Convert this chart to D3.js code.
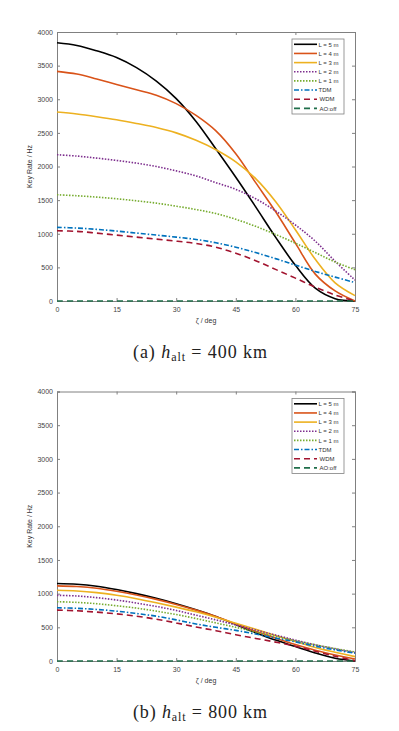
<!DOCTYPE html>
<html>
<head>
<meta charset="utf-8">
<script src="https://cdn.jsdelivr.net/npm/d3@7"></script>
<style>
  body { margin: 0; background: #fff; }
  svg { display: block; }
  .tick text { font-family: "Liberation Sans", Arial, sans-serif; }
</style>
</head>
<body>
<svg width="399" height="731"></svg>
<script>
// zenith angle samples (deg)
const zeta = [0, 5, 10, 15, 20, 25, 30, 35, 40, 45, 50, 55, 60, 65, 70, 75];
const xTicks = [0, 15, 30, 45, 60, 75];
const yTicks = [0, 500, 1000, 1500, 2000, 2500, 3000, 3500, 4000];
const seriesNames = ["L = 5 m", "L = 4 m", "L = 3 m", "L = 2 m", "L = 1 m", "TDM", "WDM", "AO:off"];

// (a) h_alt = 400 km
const a_L5  = [3840, 3800, 3720, 3620, 3470, 3270, 3010, 2670, 2260, 1840, 1400, 950, 530, 190, 35, 0];
const a_L4  = [3415, 3375, 3300, 3220, 3140, 3060, 2935, 2760, 2530, 2190, 1760, 1330, 860, 400, 150, 0];
const a_L3  = [2810, 2780, 2740, 2695, 2640, 2580, 2500, 2390, 2250, 2070, 1820, 1480, 1060, 620, 270, 80];
const a_L2  = [2175, 2155, 2125, 2090, 2050, 2000, 1935, 1860, 1760, 1660, 1520, 1340, 1130, 890, 590, 310];
const a_L1  = [1580, 1565, 1545, 1520, 1490, 1455, 1410, 1360, 1300, 1215, 1110, 990, 860, 720, 580, 465];
const a_TDM = [1095, 1085, 1065, 1040, 1010, 980, 950, 915, 865, 800, 720, 630, 535, 440, 355, 275];
const a_WDM = [1045, 1035, 1010, 980, 950, 920, 890, 855, 800, 710, 600, 470, 340, 205, 90, 0];
const a_AO  = [0, 0, 0, 0, 0, 0, 0, 0, 0, 0, 0, 0, 0, 0, 0, 0];

// (b) h_alt = 800 km
const b_L5  = [1150, 1140, 1110, 1060, 1000, 930, 850, 760, 660, 540, 420, 310, 215, 120, 40, 0];
const b_L4  = [1115, 1105, 1080, 1035, 980, 915, 840, 755, 660, 550, 440, 340, 245, 160, 90, 30];
const b_L3  = [1050, 1040, 1015, 975, 925, 865, 800, 730, 650, 560, 470, 380, 290, 200, 130, 65];
const b_L2  = [975, 965, 940, 905, 860, 810, 750, 680, 610, 535, 460, 385, 310, 240, 180, 125];
const b_L1  = [880, 870, 850, 820, 785, 740, 690, 630, 565, 500, 430, 365, 300, 240, 185, 135];
const b_TDM = [790, 782, 765, 740, 705, 665, 610, 550, 500, 455, 400, 340, 285, 220, 165, 115];
const b_WDM = [755, 745, 725, 700, 665, 620, 565, 505, 450, 390, 335, 280, 220, 145, 70, 5];
const b_AO  = [0, 0, 0, 0, 0, 0, 0, 0, 0, 0, 0, 0, 0, 0, 0, 0];

const styles = [
  { color: "#000000", dash: null },
  { color: "#D95319", dash: null },
  { color: "#EDB120", dash: null },
  { color: "#7E2F8E", dash: "1.5,1.5" },
  { color: "#77AC30", dash: "1.5,1.5" },
  { color: "#0072BD", dash: "5,2,1.5,2" },
  { color: "#A2142F", dash: "6,4" },
  { color: "#1F6E4A", dash: "6,4" }
];

const svg = d3.select("svg");
const left = 57, right = 355;

const x = d3.scaleLinear().domain([0, 75]).range([left, right]);

function panel(series, top, bottom, caption, letter) {
  const y = d3.scaleLinear().domain([0, 4000]).range([bottom, top]);
  const g = svg.append("g");

  // axes box
  const axisColor = "#808080";
  g.append("g").attr("transform", `translate(0,${bottom})`)
    .call(d3.axisBottom(x).tickValues(xTicks).tickSize(-3).tickPadding(6).tickFormat(d3.format("d")));
  g.append("g").attr("transform", `translate(0,${top})`)
    .call(d3.axisTop(x).tickValues(xTicks).tickSize(-3).tickFormat(""));
  g.append("g").attr("transform", `translate(${left},0)`)
    .call(d3.axisLeft(y).tickValues(yTicks).tickSize(-3).tickPadding(4).tickFormat(d3.format("d")));
  g.append("g").attr("transform", `translate(${right},0)`)
    .call(d3.axisRight(y).tickValues(yTicks).tickSize(-3).tickFormat(""));
  g.selectAll(".domain").attr("stroke", axisColor).attr("stroke-width", 1);
  g.selectAll(".tick line").attr("stroke", axisColor);
  g.selectAll(".tick text").attr("fill", "#444").style("font-size", "7px");

  // curves
  const line = d3.line()
    .x((d, i) => x(zeta[i]))
    .y(d => y(d))
    .curve(d3.curveCatmullRom.alpha(0.5));
  series.forEach((s, i) => {
    g.append("path")
      .attr("d", line(s))
      .attr("fill", "none")
      .attr("stroke", styles[i].color)
      .attr("stroke-width", 1.6)
      .attr("stroke-dasharray", styles[i].dash);
  });

  // legend
  const lg = g.append("g").attr("transform", `translate(292,${top + 7})`);
  lg.append("rect").attr("width", 52).attr("height", 75)
    .attr("fill", "#fff").attr("stroke", "#808080").attr("stroke-width", 0.8);
  seriesNames.forEach((name, i) => {
    const ry = 5.3 + i * 9.15;
    lg.append("line").attr("x1", 2).attr("x2", 25).attr("y1", ry).attr("y2", ry)
      .attr("stroke", styles[i].color).attr("stroke-width", 1.6)
      .attr("stroke-dasharray", styles[i].dash);
    lg.append("text").attr("x", i >= 6 ? 27.5 : 26.5).attr("y", ry + 2.2)
      .attr("font-family", "Liberation Sans, Arial, sans-serif")
      .attr("font-size", 6).attr("fill", "#333").text(name);
  });

  // axis labels
  g.append("text").attr("x", 206).attr("y", bottom + 22)
    .attr("text-anchor", "middle").attr("font-family", "Liberation Sans, Arial, sans-serif")
    .attr("font-size", 7).attr("fill", "#333").text("ζ / deg");
  g.append("text")
    .attr("transform", `translate(32,${(top + bottom) / 2}) rotate(-90)`)
    .attr("text-anchor", "middle").attr("font-family", "Liberation Sans, Arial, sans-serif")
    .attr("font-size", 7).attr("fill", "#333").text("Key Rate / Hz");

  // caption
  const cap = g.append("text").attr("x", 133).attr("y", bottom + 57)
    .attr("font-family", "Liberation Serif, DejaVu Serif, serif")
    .attr("font-size", 18).attr("fill", "#222")
    .attr("textLength", 134).attr("lengthAdjust", "spacing");
  cap.append("tspan").text(`(${letter}) `);
  cap.append("tspan").attr("font-style", "italic").text("h");
  cap.append("tspan").attr("font-size", 12).attr("dy", 3).text("alt");
  cap.append("tspan").attr("dy", -3).text(` = ${caption} km`);
}

panel([a_L5, a_L4, a_L3, a_L2, a_L1, a_TDM, a_WDM, a_AO], 32, 301, "400", "a");
panel([b_L5, b_L4, b_L3, b_L2, b_L1, b_TDM, b_WDM, b_AO], 391.5, 661, "800", "b");
</script>
</body>
</html>
